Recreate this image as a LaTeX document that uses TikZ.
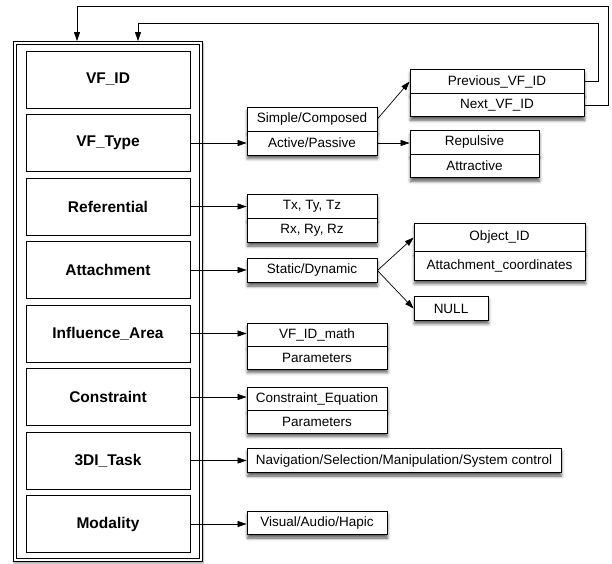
\documentclass[tikz,border=0pt]{standalone}
\usepackage{fontspec}
\setmainfont{Liberation Sans}
\usetikzlibrary{arrows.meta,shadows.blur}

\tikzset{
  field/.style={draw, line width=0.8pt, fill=white, minimum width=164pt, minimum height=57pt,
    inner sep=0pt, font=\bfseries\fontsize{15.5}{18}\selectfont},
  cell/.style={draw, line width=0.8pt, fill=white, minimum height=24pt, inner sep=0pt,
    font=\fontsize{13.5}{16}\selectfont,
    blur shadow={shadow xshift=0.5pt, shadow yshift=-3.5pt, shadow blur radius=3pt, shadow opacity=65}},
  link/.style={-{Triangle[length=9pt,width=6pt]}, line width=0.7pt},
}

\begin{document}
\begin{tikzpicture}[x=1pt,y=1pt,yscale=-1]
\useasboundingbox (0,0) rectangle (612,563);

% outer frame
\node[draw, fill=white, line width=0.8pt, minimum width=189pt, minimum height=520pt, inner sep=0pt,
  blur shadow={shadow xshift=1pt, shadow yshift=-2pt, shadow blur radius=2pt, shadow opacity=40}]
  (frame) at (107.5,301.5) {};
\draw[line width=0.8pt] ([shift={(3.5,3.5)}]frame.north west) rectangle ([shift={(-3.5,-3.5)}]frame.south east);

% fields of the frame
\node[field] (vfid)  at (108,79.5)  {VF\_ID};
\node[field] (vftype) at (108,143)  {VF\_Type};
\node[field] (refer) at (108,206.5) {Referential};
\node[field] (attach) at (108,270)  {Attachment};
\node[field] (infl)  at (108,333.5) {Influence\_Area};
\node[field] (constr) at (108,397)  {Constraint};
\node[field] (task)  at (108,460.5) {3DI\_Task};
\node[field] (modal) at (108,524)   {Modality};

% VF_Type
\node[cell, minimum width=130pt] (simple)  at (312,119)   {Simple/Composed};
\node[cell, minimum width=130pt] (active)  at (312,143)   {Active/Passive};
\node[cell, minimum width=174pt, minimum height=23.5pt] (prev) at (497,81.5) {Previous\_VF\_ID};
\node[cell, minimum width=174pt, minimum height=23.5pt] (next) at (497,105)  {Next\_VF\_ID};
\node[cell, minimum width=129pt, minimum height=23.5pt] (repul) at (474.5,142.5) {Repulsive};
\node[cell, minimum width=129pt, minimum height=23.5pt] (attr)  at (474.5,166)   {Attractive};

% Referential
\node[cell, minimum width=130pt] (trans) at (312,206.5) {Tx, Ty, Tz};
\node[cell, minimum width=130pt] (rot)   at (312,230.5) {Rx, Ry, Rz};

% Attachment
\node[cell, minimum width=130pt] (static) at (312,270.5) {Static/Dynamic};
\node[cell, minimum width=171pt, minimum height=28.5pt] (object) at (499.5,237.5) {Object\_ID};
\node[cell, minimum width=171pt, minimum height=28.5pt] (coords) at (499.5,266)   {Attachment\_coordinates};
\node[cell, minimum width=74pt, minimum height=23.5pt] (null) at (451,308.5) {NULL};

% Influence_Area
\node[cell, minimum width=140pt, minimum height=23pt] (vfmath) at (317,334.5) {VF\_ID\_math};
\node[cell, minimum width=140pt, minimum height=23pt] (param1) at (317,357.5) {Parameters};

% Constraint
\node[cell, minimum width=140pt, minimum height=23pt] (equat)  at (317,398.5) {Constraint\_Equation};
\node[cell, minimum width=140pt, minimum height=23pt] (param2) at (317,421.5) {Parameters};

% 3DI_Task and Modality
\node[cell, minimum width=314pt] (navig) at (404,460.5) {Navigation/Selection/Manipulation/System control};
\node[cell, minimum width=140pt, minimum height=23pt] (visual) at (317,523) {Visual/Audio/Hapic};

% links
\draw[link] (vftype.east) -- (vftype.east -| active.west);
\draw[link] (refer.east)  -- (refer.east -| trans.west);
\draw[link] (attach.east) -- (attach.east -| static.west);
\draw[link] (infl.east)   -- (infl.east -| vfmath.west);
\draw[link] (constr.east) -- (constr.east -| equat.west);
\draw[link] (task.east)   -- (task.east -| navig.west);
\draw[link] (modal.east)  -- (modal.east -| visual.west);

\draw[link] (simple.east) -- (prev.west);
\draw[link] (active.east) -- (active.east -| repul.west);
\draw[link] (static.east) -- (object.west);
\draw[link] (static.east) -- (null.west);

% back to the frame
\coordinate (backA) at (138,23);
\coordinate (backB) at (77,6);
\draw[link] (prev.east) -- ++(14,0) |- (backA) -- (backA |- frame.north);
\draw[link] (next.east) -- ++(24,0) |- (backB) -- (backB |- frame.north);
\end{tikzpicture}
\end{document}
